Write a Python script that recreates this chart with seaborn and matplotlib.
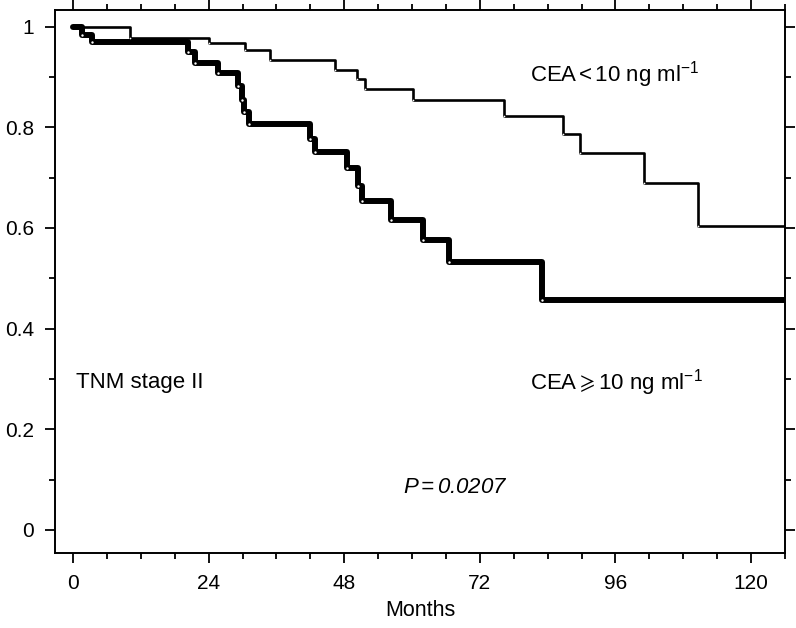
import numpy as np
import pandas as pd
import matplotlib
matplotlib.use("Agg")
import matplotlib.pyplot as plt
from matplotlib.ticker import MultipleLocator
import seaborn as sns

# Kaplan-Meier Kurven, TNM Stadium II, CEA niedrig vs. hoch
low_months = [0, 10.0, 24.0, 30.4, 34.8, 46.4, 50.3, 51.7, 60.1, 76.2, 86.7, 89.7, 101.1, 110.6, 126]
low_surv = [1.0, 0.977, 0.967, 0.954, 0.934, 0.914, 0.895, 0.876, 0.854, 0.822, 0.787, 0.748, 0.690, 0.603, 0.603]

high_months = [0, 1.5, 3.4, 20.3, 21.6, 25.7, 29.1, 29.9, 30.3, 31.1, 42.0, 42.8, 48.4, 50.5,
               51.1, 56.3, 62.0, 66.5, 83.0, 126]
high_surv = [1.0, 0.983, 0.969, 0.949, 0.927, 0.907, 0.881, 0.854, 0.831, 0.807, 0.777, 0.750,
             0.720, 0.684, 0.654, 0.616, 0.576, 0.532, 0.456, 0.456]

x_ticks = [0, 24, 48, 72, 96, 120]
y_ticks = [0, 0.2, 0.4, 0.6, 0.8, 1.0]
y_tick_labels = ["0", "0.2", "0.4", "0.6", "0.8", "1"]

df_low = pd.DataFrame({"Months": low_months, "Survival": low_surv})
df_high = pd.DataFrame({"Months": high_months, "Survival": high_surv})

sns.set_style("ticks")
plt.rcParams["font.family"] = ["Liberation Sans", "DejaVu Sans"]
plt.rcParams["mathtext.fontset"] = "custom"
plt.rcParams["mathtext.rm"] = "Liberation Sans"
plt.rcParams["mathtext.it"] = "Liberation Sans:italic"
plt.rcParams["mathtext.fallback"] = "stix"
for key in ["text.color", "axes.labelcolor", "xtick.color", "ytick.color"]:
    plt.rcParams[key] = "black"

fig = plt.figure(figsize=(7.96, 6.28), dpi=100)
ax = fig.add_axes([55 / 796, 1 - 553 / 628, 730 / 796, 543 / 628])

sns.lineplot(data=df_low, x="Months", y="Survival", color="black", linewidth=1.9,
             drawstyle="steps-post", ax=ax, estimator=None, sort=False)
sns.lineplot(data=df_high, x="Months", y="Survival", color="black", linewidth=4.3,
             drawstyle="steps-post", ax=ax, estimator=None, sort=False,
             solid_joinstyle="round", solid_capstyle="round")

# kleine weisse Punkte an den Stufen (wie im Original)
sns.scatterplot(x=high_months[1:-1], y=high_surv[1:-1], color="white", s=3, linewidth=0,
                ax=ax, zorder=5)
sns.scatterplot(x=low_months[1:-1], y=low_surv[1:-1], color="white", s=1.5, linewidth=0,
                ax=ax, zorder=5)

ax.set_xlim(-3.2, 126)
ax.set_ylim(-0.046, 1.033)
ax.set_xticks(x_ticks)
ax.set_yticks(y_ticks)
ax.set_yticklabels(y_tick_labels)
ax.xaxis.set_minor_locator(MultipleLocator(6))
ax.yaxis.set_minor_locator(MultipleLocator(0.1))
ax.tick_params(which="both", direction="out", top=True, right=True, width=1.3,
               labelsize=15, pad=8, color="black")
ax.tick_params(which="major", length=7)
ax.tick_params(which="minor", length=4.5)
for sp in ax.spines.values():
    sp.set_visible(True)
    sp.set_linewidth(1.4)
    sp.set_color("black")

ax.set_xlabel("Months", fontsize=15.5, labelpad=5)
ax.set_ylabel("")

ax.text(80.9, 0.904, "CEA$\\,$<$\\,$10 ng ml$^{-1}$", fontsize=16, va="center", ha="left")
ax.text(80.9, 0.292, "CEA$\\geqslant$10 ng ml$^{-1}$", fontsize=16, va="center", ha="left")
ax.text(0.5, 0.292, "TNM stage II", fontsize=16, va="center", ha="left")
ax.text(67.7, 0.085, "P$\\,$=$\\,$0.0207", fontsize=16, va="center", ha="center", style="italic")

plt.savefig("out.png", dpi=100)
